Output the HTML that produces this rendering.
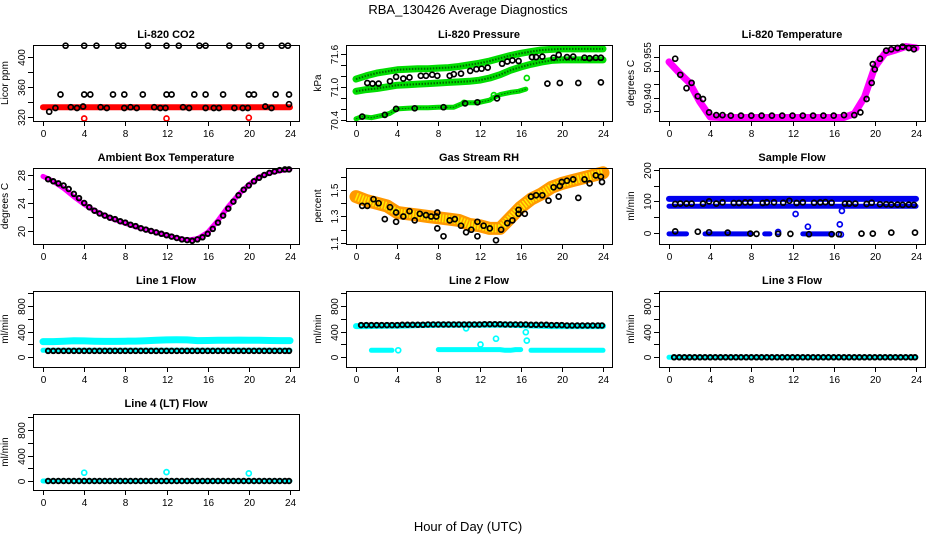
<!DOCTYPE html>
<html><head><meta charset="utf-8">
<style>
html,body{margin:0;padding:0;background:#fff;}
svg{display:block;font-family:"Liberation Sans",sans-serif;}
</style></head>
<body>
<svg id="chart" width="936" height="540" viewBox="0 0 936 540">
<text x="468" y="14" text-anchor="middle" font-size="13">RBA_130426  Average Diagnostics</text>
<text x="468" y="531" text-anchor="middle" font-size="13">Hour of Day (UTC)</text>
</svg>
<script>
// ---- shared hour categories ----
const hoursHourly = [0,1,2,3,4,5,6,7,8,9,10,11,12,13,14,15,16,17,18,19,20,21,22,23,24];
const hoursHalf = [0.5,1,1.5,2,2.5,3,3.5,4,4.5,5,5.5,6,6.5,7,7.5,8,8.5,9,9.5,10,10.5,11,11.5,12,12.5,13,13.5,14,14.5,15,15.5,16,16.5,17,17.5,18,18.5,19,19.5,20,20.5,21,21.5,22,22.5,23,23.5,23.9];
const xTicks = [0,4,8,12,16,20,24];

// ---- CO2 ----
const co2Band = [333,333,333,333,333,333,333,333,333,333,333,333,333,333,333,333,333,333,333,333,333,333,333,333,333];
const co2HighHours = [2.2,4,5.2,7.3,7.8,10.2,12,13.2,15.2,15.8,18.1,20,21.2,23.2,23.8];
const co2HighVals = [415,415,415,415,415,415,415,415,415,415,415,415,415,415,415];
const co2MidHours = [1.7,4,4.6,6.8,7.9,9.7,12,12.5,14.7,15.8,17.5,20,20.5,22.6,23.9];
const co2MidVals = [350,350,350,350,350,350,350,350,350,350,350,350,350,350,350];
const co2LowHours = [0.6,1.2,2.7,3.3,3.9,5.6,6.2,7.9,8.5,9.1,10.8,11.4,11.9,13.6,14.2,15.8,16.6,17.1,18.6,19.4,19.9,21.6,22.2,23.9];
const co2LowVals = [327,332,333,332,334,333,332,332,333,332,333,332,332,333,332,332,332,332,332,332,332,334,332,337];
const co2RedHours = [4,12,20];
const co2RedVals = [318,318,319];

// ---- Pressure ----
const presUpper = [71.14,71.2,71.25,71.28,71.31,71.32,71.33,71.33,71.34,71.35,71.37,71.4,71.43,71.47,71.52,71.57,71.61,71.64,71.67,71.68,71.69,71.69,71.69,71.69,71.69];
const presMiddle = [70.92,70.95,70.97,71.0,71.03,71.04,71.05,71.06,71.07,71.08,71.09,71.1,71.12,71.16,71.22,71.3,71.36,71.41,71.45,71.48,71.49,71.49,71.49,71.49,71.49];
const presLowHours = [0,0.6,1.5,2.8,3.3,4,5,6,7,8,9.5,10.5,11.8,13,13.3,14,15,15.8,16.5,16.6];
const presLowVals = [70.42,70.46,70.44,70.49,70.52,70.6,70.61,70.62,70.62,70.63,70.63,70.71,70.71,70.76,70.8,70.86,70.9,70.92,70.96,71.16];
const presBlackHours = [0.6,1.1,1.6,2.2,3.3,3.9,4.6,5.2,6.3,6.8,7.4,7.9,9.1,9.5,10.2,11.1,11.7,12.2,12.8,14.2,14.7,15.2,15.8,17.1,17.5,18.1,19.2,19.7,20.5,21.1,22.2,22.7,23.3,23.8,18.6,19.8,21.6,23.8,2.8,3.9,5.7,8.5,10.6,11.8,13.7];
const presBlackVals = [70.46,71.07,71.06,71.06,71.1,71.18,71.15,71.17,71.2,71.2,71.22,71.2,71.2,71.23,71.24,71.29,71.32,71.33,71.35,71.42,71.46,71.48,71.47,71.54,71.54,71.55,71.53,71.58,71.54,71.55,71.53,71.52,71.53,71.53,71.06,71.07,71.07,71.08,70.49,70.6,70.61,70.63,70.7,70.72,70.79];

// ---- Li-820 temperature ----
const tempBand = [50.9533,50.9492,50.9455,50.9384,50.9328,50.9326,50.9326,50.9326,50.9326,50.9326,50.9326,50.9326,50.9326,50.9326,50.9326,50.9326,50.9326,50.9326,50.934,50.9402,50.9514,50.9566,50.9577,50.959,50.9585];
const tempBlackHours = [0.6,1.1,1.7,2.2,2.8,3.3,3.9,4.6,5.2,6,7,8,9,10,11,12,13,14,15,16,17,18,18.6,19.2,19.7,19.8,20,20.5,21.1,21.6,22.2,22.7,23.3,23.8];
const tempBlackVals = [50.9545,50.9485,50.9435,50.9455,50.9405,50.9395,50.9345,50.9335,50.9335,50.9333,50.9333,50.9333,50.9333,50.9333,50.9333,50.9333,50.9333,50.9333,50.9333,50.9333,50.9335,50.9335,50.9345,50.9395,50.9455,50.9525,50.9505,50.9545,50.9575,50.958,50.9585,50.959,50.9585,50.958];

// ---- Ambient box temperature ----
const ambBand = [27.8,27.1,26.1,24.9,23.8,22.9,22.2,21.6,21.1,20.6,20.2,19.8,19.4,19.0,18.7,18.9,19.8,21.5,23.5,25.2,26.6,27.7,28.3,28.6,28.8];
const ambBlack = [27.4,27.1,26.8,26.5,26.0,25.3,24.7,24.0,23.4,22.9,22.5,22.2,21.9,21.7,21.4,21.2,20.9,20.7,20.4,20.2,20.0,19.8,19.6,19.4,19.2,19.0,18.8,18.7,18.6,18.8,19.1,19.6,20.3,21.2,22.2,23.2,24.2,25.1,25.9,26.5,27.1,27.6,28.0,28.3,28.5,28.7,28.8,28.8];

// ---- Gas stream RH ----
const rhBand = [1.45,1.42,1.40,1.38,1.33,1.32,1.31,1.30,1.29,1.28,1.27,1.24,1.23,1.21,1.21,1.29,1.37,1.43,1.47,1.52,1.55,1.57,1.59,1.61,1.63];
const rhBlackHours = [0.6,1.1,1.7,2.2,2.8,3.3,3.9,3.9,4.6,5.2,5.7,6.2,6.8,7.3,7.8,7.9,7.9,8.5,9.1,9.6,10.2,10.7,11.2,11.8,11.8,12.4,13,13.6,14.1,14.7,15.2,15.8,15.8,16.4,17,17.5,18.1,18.7,19.2,19.7,19.8,20,20.5,21.1,21.6,22.2,22.7,23.3,23.8,23.9];
const rhBlackVals = [1.38,1.38,1.43,1.40,1.28,1.37,1.33,1.26,1.30,1.34,1.27,1.32,1.31,1.30,1.30,1.33,1.21,1.15,1.27,1.28,1.23,1.18,1.20,1.26,1.15,1.23,1.21,1.12,1.20,1.25,1.27,1.32,1.35,1.32,1.45,1.46,1.46,1.42,1.52,1.45,1.53,1.56,1.57,1.58,1.44,1.58,1.55,1.61,1.60,1.56];

// ---- Sample flow ----
const sfUpper = [108,108,108,108,108,108,108,108,108,108,108,108,108,108,108,108,108,108,108,108,108,108,108,108,108];
const sfLower = [85,85,85,85,85,85,85,85,85,85,85,85,85,85,85,85,85,85,85,85,85,85,85,85,85];
const sfZeroHours = [0,0.5,1,1.7,3.5,4.5,5.5,6.5,8,9.3,9.8,13,13.8,14.6,15.4,15.9];
const sfZeroVals = [-3,-3,-3,-3,-3,-3,-3,-3,-3,-3,-3,-3,-3,-3,-3,-3];
const sfBlackHours = [0.6,1.1,1.7,2.2,3.3,3.9,4.6,5.2,6.3,6.8,7.4,7.9,9.1,9.5,10.2,11.1,11.7,12.4,13,14.1,14.7,15.2,15.8,17.1,17.5,18.1,19.2,19.7,20.5,21.1,21.6,22.2,22.7,23.3,23.8,0.6,2.8,3.9,5.7,7.9,8.5,10.6,11.8,13.6,15.8,16.5,18.7,19.8,21.6,23.9];
const sfBlackVals = [92,93,93,93,93,100,93,97,95,95,97,97,95,97,97,96,102,95,97,96,97,98,96,93,93,93,92,96,91,91,90,90,89,90,89,5,4,2,1,-2,-3,-3,-3,-4,-4,-4,-2,-2,1,1];
const sfBlueHours = [12.3,13.5,16.6,16.8,10.6,16.7];
const sfBlueVals = [60,20,27,70,3,-5];

// ---- Line 1 flow ----
const l1Upper = [245,245,250,258,255,250,248,248,250,252,258,265,270,272,270,260,262,265,265,268,265,265,262,260,260];
const l1Lower = [110,110,110,110,110,110,110,110,110,110,110,110,110,110,110,110,110,110,110,110,110,110,110,110,110];
const l1Black = [100,100,100,100,100,100,100,100,100,100,100,100,100,100,100,100,100,100,100,100,100,100,100,100,100,100,100,100,100,100,100,100,100,100,100,100,100,100,100,100,100,100,100,100,100,100,100,100];

// ---- Line 2 flow ----
const l2Upper = [485,485,488,490,490,495,500,502,505,505,505,505,505,505,505,505,500,495,490,485,485,485,485,485,485];
const l2LowHours = [1.5,2,2.5,3,3.5,4.1,8,8.5,9,9.5,10,10.5,11,11.5,12,12.5,13,13.5,14,14.5,15,15.5,16,17,17.5,18,18.5,19,19.5,20,20.5,21,21.5,22,22.5,23,23.5,24];
const l2LowVals = [110,110,110,110,110,110,120,120,120,120,120,120,120,120,120,120,120,120,120,110,110,120,120,110,110,110,110,110,110,110,110,110,110,110,110,110,110,110];
const l2OutHours = [10.7,12.1,13.6,16.5,16.6];
const l2OutVals = [450,200,290,390,260];
const l2Black = [500,500,500,500,500,500,500,500,505,505,505,505,505,510,510,510,510,510,510,510,510,510,510,510,515,515,515,515,510,510,510,510,510,505,505,505,505,500,500,500,495,495,495,495,495,495,495,495];

// ---- Line 3 & 4 flow ----
const l3Vals = [0,0,0,0,0,0,0,0,0,0,0,0,0,0,0,0,0,0,0,0,0,0,0,0,0];
const l3Black = [0,0,0,0,0,0,0,0,0,0,0,0,0,0,0,0,0,0,0,0,0,0,0,0,0,0,0,0,0,0,0,0,0,0,0,0,0,0,0,0,0,0,0,0,0,0,0,0];
const l4Vals = [0,0,0,0,0,0,0,0,0,0,0,0,0,0,0,0,0,0,0,0,0,0,0,0,0];
const l4OutHours = [4,12,20];
const l4OutVals = [130,140,120];
const l4Black = [0,0,0,0,0,0,0,0,0,0,0,0,0,0,0,0,0,0,0,0,0,0,0,0,0,0,0,0,0,0,0,0,0,0,0,0,0,0,0,0,0,0,0,0,0,0,0,0];

const NS = 'http://www.w3.org/2000/svg';
const svg = document.getElementById('chart');
const colLeft = [33, 346, 659];
const rowTop = [45, 168, 291, 414];
const PW = 266, PH = 76;

function mk(tag, attrs, parent) {
  const e = document.createElementNS(NS, tag);
  for (const k in attrs) e.setAttribute(k, attrs[k]);
  parent.appendChild(e);
  return e;
}

function panel(col, row, name, title, ylab, ymin, ymax, yt, ytl) {
  const L = colLeft[col], T = rowTop[row];
  const g = mk('g', {}, svg);
  
  
  const sx = h => L + 10 + h * (247 / 24);
  const sy = v => T + PH - (v - ymin) / (ymax - ymin) * PH;
  const tt = mk('text', {x: L + PW / 2, y: T - 7, 'text-anchor': 'middle', 'font-size': 11, 'font-weight': 'bold'}, g);
  tt.textContent = title;
  
  
  const yl = mk('text', {x: 0, y: 0, 'text-anchor': 'middle', 'font-size': 10, transform: `translate(${L - 25},${T + PH / 2}) rotate(-90)`}, g);
  yl.textContent = ylab;
  
  
  const plot = mk('g', {}, g);
  const axes = mk('g', {stroke: '#000', 'stroke-width': 1, fill: 'none'}, g);
  const box = mk('rect', {x: L + 0.5, y: T + 0.5, width: PW, height: PH}, axes);
  
  
  xTicks.forEach(h => {
    const x = Math.round(sx(h)) + 0.5;
    mk('line', {x1: x, x2: x, y1: T + PH, y2: T + PH + 5}, axes);
    const t = mk('text', {x: x, y: T + PH + 16, 'text-anchor': 'middle', 'font-size': 10, fill: '#000', stroke: 'none'}, g);
    t.textContent = h;
    
    
  });
  yt.forEach((v, i) => {
    const y = Math.round(sy(v)) + 0.5;
    mk('line', {x1: L - 5, x2: L, y1: y, y2: y}, axes);
    if (ytl[i] !== '') {
      const t = mk('text', {x: 0, y: 0, 'text-anchor': 'middle', 'font-size': 10, fill: '#000', stroke: 'none', transform: `translate(${L - 8},${y}) rotate(-90)`}, g);
      t.textContent = ytl[i];
      
      
    }
  });
  return {plot, sx, sy};
}

function band(p, name, hrs, vals, color, width, dots) {
  const pts = hrs.map((h, i) => p.sx(h).toFixed(1) + ',' + p.sy(vals[i]).toFixed(1)).join(' ');
  const pl = mk('polyline', {points: pts, fill: 'none', stroke: color, 'stroke-width': width, 'stroke-linejoin': 'round', 'stroke-linecap': 'round'}, p.plot);
  
  
  if (dots) {
    const pl2 = mk('polyline', {points: pts, fill: 'none', stroke: dots, 'stroke-width': Math.max(1, width - 5), 'stroke-dasharray': '1.5 1.5', 'stroke-linejoin': 'round'}, p.plot);
    
    
  }
}

function points(p, name, hrs, vals, color, r, sw) {
  hrs.forEach((h, i) => {
    const c = mk('circle', {cx: p.sx(h).toFixed(1), cy: p.sy(vals[i]).toFixed(1), r: r || 2.5, fill: 'none', stroke: color, 'stroke-width': sw || 1.7}, p.plot);
    
    
  });
}

const flowT = [0,200,400,600,800,1000], flowL = ['0','','400','','800',''];

// CO2
let p = panel(0, 0, 'co2', 'Li-820 CO2', 'Licor ppm', 314.6, 416, [320,340,360,380,400], ['320','','360','','400']);
band(p, 'co2-band', hoursHourly, co2Band, '#ff0000', 6);
points(p, 'co2-point', co2HighHours, co2HighVals, '#000');
points(p, 'co2-point', co2MidHours, co2MidVals, '#000');
points(p, 'co2-point', co2LowHours, co2LowVals, '#000');
points(p, 'co2-red-point', co2RedHours, co2RedVals, '#ff0000');

// Pressure
p = panel(1, 0, 'pressure', 'Li-820 Pressure', 'kPa', 70.38, 71.76, [70.4,70.6,70.8,71.0,71.2,71.4,71.6], ['70.4','','','71.0','','','71.6']);
band(p, 'pressure-upper-band', hoursHourly, presUpper, '#00dd00', 7, '#006600');
band(p, 'pressure-middle-band', hoursHourly, presMiddle, '#00dd00', 7, '#006600');
band(p, 'pressure-lower-band', presLowHours.slice(0, 19), presLowVals.slice(0, 19), '#00dd00', 5, '#006600');
points(p, 'pressure-green-point', [16.6, 13.4, 10.5], [71.16, 70.85, 70.71], '#00dd00');
points(p, 'pressure-point', presBlackHours, presBlackVals, '#000');

// Li-820 temperature
p = panel(2, 0, 'li820-temp', 'Li-820 Temperature', 'degrees C', 50.9313, 50.9596, [50.935,50.940,50.945,50.950,50.955], ['','50.940','','','50.955']);
band(p, 'li820-temp-band', hoursHourly, tempBand, '#ff00ff', 7);
points(p, 'li820-temp-point', tempBlackHours, tempBlackVals, '#000');

// Ambient
p = panel(0, 1, 'ambient-temp', 'Ambient Box Temperature', 'degrees C', 18.14, 29, [20,22,24,26,28], ['20','','24','','28']);
band(p, 'ambient-temp-band', hoursHourly, ambBand, '#ff00ff', 5);
points(p, 'ambient-temp-point', hoursHalf, ambBlack, '#000', 2.3, 1.9);

// RH
p = panel(1, 1, 'rh', 'Gas Stream RH', 'percent', 1.092, 1.666, [1.1,1.2,1.3,1.4,1.5,1.6], ['1.1','','1.3','','1.5','']);
band(p, 'rh-band', hoursHourly, rhBand, '#ff9900', 13, '#ffee00');
points(p, 'rh-point', rhBlackHours, rhBlackVals, '#000');

// Sample flow
p = panel(2, 1, 'sample-flow', 'Sample Flow', 'ml/min', -35, 206, [0,50,100,150,200], ['0','','100','','200']);
band(p, 'sample-flow-upper-band', hoursHourly, sfUpper, '#0000ee', 6);
band(p, 'sample-flow-lower-band', hoursHourly, sfLower, '#0000ee', 5);
band(p, 'sample-flow-zero-band-a', sfZeroHours.slice(0, 4), sfZeroVals.slice(0, 4), '#0000ee', 5);
band(p, 'sample-flow-zero-band-b', sfZeroHours.slice(4, 9), sfZeroVals.slice(4, 9), '#0000ee', 5);
band(p, 'sample-flow-zero-band-c', sfZeroHours.slice(9, 11), sfZeroVals.slice(9, 11), '#0000ee', 5);
band(p, 'sample-flow-zero-band-d', sfZeroHours.slice(11), sfZeroVals.slice(11), '#0000ee', 5);
points(p, 'sample-flow-blue-point', sfBlueHours, sfBlueVals, '#0000ee');
points(p, 'sample-flow-point', sfBlackHours, sfBlackVals, '#000');

// Line 1
p = panel(0, 2, 'line1-flow', 'Line 1 Flow', 'ml/min', -150, 1030, flowT, flowL);
band(p, 'line1-upper-band', hoursHourly, l1Upper, '#00ffff', 7);
band(p, 'line1-lower-band', hoursHourly, l1Lower, '#00ffff', 5);
points(p, 'line1-point', hoursHalf, l1Black, '#000', 2.3, 1.9);

// Line 2
p = panel(1, 2, 'line2-flow', 'Line 2 Flow', 'ml/min', -150, 1030, flowT, flowL);
band(p, 'line2-upper-band', hoursHourly, l2Upper, '#00ffff', 6);
band(p, 'line2-lower-band-a', l2LowHours.slice(0, 5), l2LowVals.slice(0, 5), '#00ffff', 5);
band(p, 'line2-lower-band-b', l2LowHours.slice(6, 23), l2LowVals.slice(6, 23), '#00ffff', 5);
band(p, 'line2-lower-band-c', l2LowHours.slice(23), l2LowVals.slice(23), '#00ffff', 5);
points(p, 'line2-cyan-point', l2OutHours.concat([4.1]), l2OutVals.concat([110]), '#00ffff');
points(p, 'line2-point', hoursHalf, l2Black, '#000', 2.3, 1.9);

// Line 3
p = panel(2, 2, 'line3-flow', 'Line 3 Flow', 'ml/min', -150, 1030, flowT, flowL);
band(p, 'line3-band', hoursHourly, l3Vals, '#00ffff', 5);
points(p, 'line3-point', hoursHalf, l3Black, '#000', 2.3, 1.9);

// Line 4
p = panel(0, 3, 'line4-flow', 'Line 4 (LT) Flow', 'ml/min', -141, 1051, flowT, flowL);
band(p, 'line4-band', hoursHourly, l4Vals, '#00ffff', 5);
points(p, 'line4-cyan-point', l4OutHours, l4OutVals, '#00ffff');
points(p, 'line4-point', hoursHalf, l4Black, '#000', 2.3, 1.9);
</script>
</body></html>
